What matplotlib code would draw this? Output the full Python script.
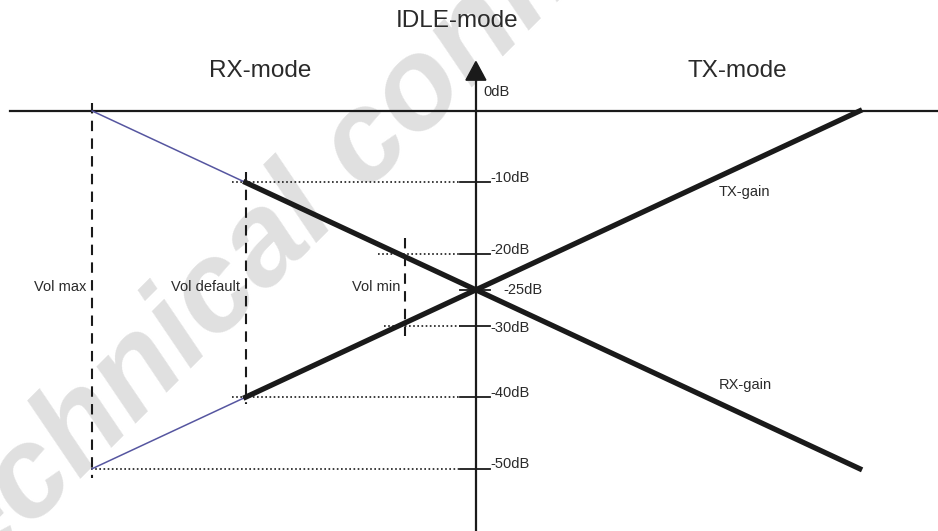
import matplotlib
matplotlib.use("Agg")
import matplotlib.pyplot as plt
from matplotlib.patches import Polygon

plt.rcParams['font.family'] = ['Liberation Sans', 'DejaVu Sans']

# volume setting axis (x) and gain in dB (y)
vol_steps = [-25, -15, 25]
rx_gain = [0, -10, -50]
tx_gain = [-50, -40, 0]

vol_names = ['Vol max', 'Vol default', 'Vol min']
vol_pos = [-25, -15, -4.6]
vol_top = [1.1, -8.5, -17.8]
vol_bottom = [-51.3, -41.0, -31.5]

db_ticks = [-10, -20, -25, -30, -40, -50]
db_labels = ['-10dB', '-20dB', '-25dB', '-30dB', '-40dB', '-50dB']

# dotted guides: level and where they start on the left
guide_levels = [-10, -20, -30, -40, -50]
guide_start = [-15.9, -6.4, -6.0, -15.9, -25.1]

ink = '#1a1a1a'
txt = '#2a2a2a'
blue = '#5656a0'

fig = plt.figure(figsize=(9.38, 5.31), dpi=100)
ax = fig.add_axes([0, 0, 1, 1])
ax.set_xlim(-31.0, 30.1)
ax.set_ylim(-58.7, 15.5)
ax.axis('off')

# watermark, behind everything
ax.text(-0.078, -0.19, 'Technical confidential', transform=fig.transFigure,
        rotation=45, rotation_mode='anchor', ha='left', va='baseline',
        fontsize=92, fontweight='bold', style='italic', color='#e0e0e0', zorder=0)

# 0 dB line and vertical axis with arrow
ax.plot([-30.36, 30.1], [0, 0], color=ink, lw=1.6, zorder=3)
ax.plot([0, 0], [-58.7, 4.5], color=ink, lw=1.6, zorder=3)
ax.add_patch(Polygon([[-0.65, 4.3], [0.65, 4.3], [0, 6.9]], closed=True,
                     color=ink, zorder=3))
ax.text(0.46, 2.66, '0dB', ha='left', va='center', fontsize=10.5, color=txt)

# ticks and labels
for lev, lab in zip(db_ticks, db_labels):
    ax.plot([-1.04, 0.95], [lev, lev], color=ink, lw=1.3, zorder=3)
    if lev == -25:
        ax.text(1.82, lev, lab, ha='left', va='center', fontsize=10.5, color=txt)
    elif lev == -30:
        ax.text(0.91, lev - 0.3, lab, ha='left', va='center', fontsize=10.5, color=txt)
    else:
        ax.text(0.91, lev + 0.6, lab, ha='left', va='center', fontsize=10.5, color=txt)

# dotted guides
for lev, x0 in zip(guide_levels, guide_start):
    ax.plot([x0, -1.04], [lev, lev], color=ink, lw=1.2, ls=(0, (1, 1.5)), zorder=2)

# volume markers
for name, x, top, bot in zip(vol_names, vol_pos, vol_top, vol_bottom):
    ax.plot([x, x], [top, bot], color=ink, lw=1.5, ls=(0, (5, 3.5)), zorder=2)
    ax.text(x - 0.35, -24.6, name, ha='right', va='center', fontsize=10.5, color=txt)

# gain curves: thin part up to default volume, thick beyond
ax.plot(vol_steps[:2], rx_gain[:2], color=blue, lw=1.1, zorder=4)
ax.plot(vol_steps[:2], tx_gain[:2], color=blue, lw=1.1, zorder=4)
ax.plot(vol_steps[1:], rx_gain[1:], color=ink, lw=3.8, zorder=5)
ax.plot(vol_steps[1:], tx_gain[1:], color=ink, lw=3.8, zorder=5)

ax.text(15.83, -11.33, 'TX-gain', ha='left', va='center', fontsize=10.5, color=txt)
ax.text(15.83, -38.3, 'RX-gain', ha='left', va='center', fontsize=10.5, color=txt)

# mode headings
ax.text(-1.24, 12.5, 'IDLE-mode', ha='center', va='center', fontsize=17.5, color=txt)
ax.text(-14.07, 5.6, 'RX-mode', ha='center', va='center', fontsize=17.5, color=txt)
ax.text(17.0, 5.6, 'TX-mode', ha='center', va='center', fontsize=17.5, color=txt)

fig.savefig('out.png', dpi=100)
